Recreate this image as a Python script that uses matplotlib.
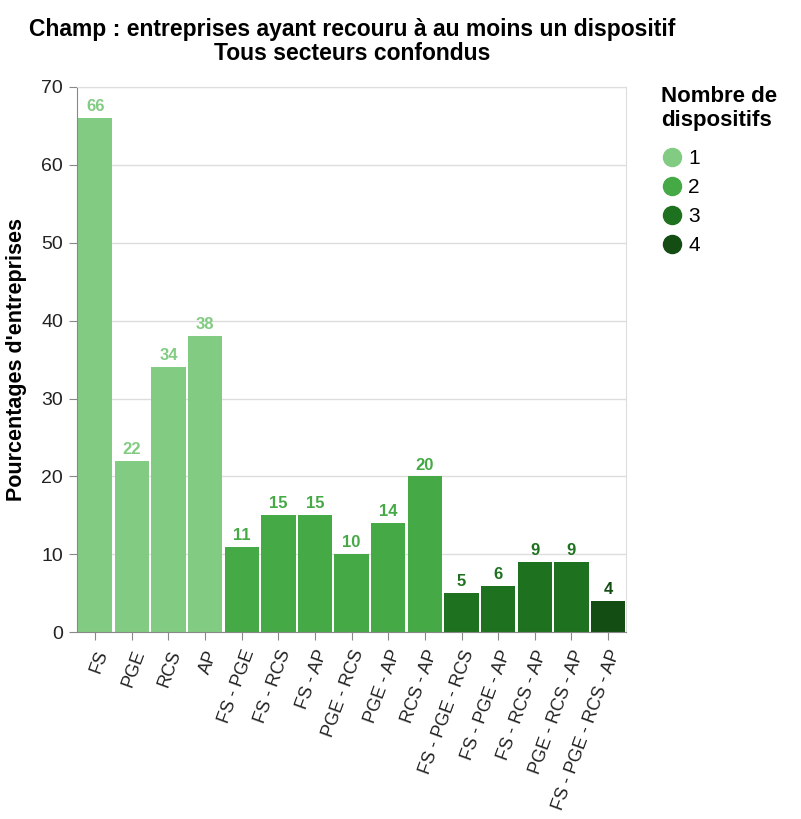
import matplotlib
matplotlib.use("Agg")
import matplotlib.pyplot as plt
from matplotlib.lines import Line2D

# data
categories = ["FS", "PGE", "RCS", "AP",
              "FS - PGE", "FS - RCS", "FS - AP", "PGE - RCS", "PGE - AP", "RCS - AP",
              "FS - PGE - RCS", "FS - PGE - AP", "FS - RCS - AP", "PGE - RCS - AP",
              "FS - PGE - RCS - AP"]
values = [66, 22, 34, 38, 11, 15, 15, 10, 14, 20, 5, 6, 9, 9, 4]
n_dispositifs = [1, 1, 1, 1, 2, 2, 2, 2, 2, 2, 3, 3, 3, 3, 4]
legend_levels = [1, 2, 3, 4]
palette = {1: "#82cb82", 2: "#45a945", 3: "#1e711e", 4: "#134d13"}

fig = plt.figure(figsize=(8.01, 8.19), dpi=100)
ax = fig.add_axes([0.096, 0.228, 0.686, 0.666])

x = range(len(categories))
cols = [palette[k] for k in n_dispositifs]
ax.bar(x, values, width=0.94, color=cols, zorder=2)
for i, v in enumerate(values):
    ax.text(i, v + 0.5, str(v), ha="center", va="bottom", fontsize=12,
            fontweight="bold", color=cols[i], family="Liberation Sans")

ax.set_xlim(-0.5, len(categories) - 0.5)
ax.set_ylim(0, 70)
ax.set_yticks(range(0, 71, 10))
ax.yaxis.grid(True, color="#dddddd", lw=1, zorder=0)
ax.set_xticks(list(x))
ax.set_xticklabels(categories, rotation=70, ha="right", rotation_mode="anchor",
                   fontsize=13, family="Liberation Sans")
for lab in ax.get_yticklabels():
    lab.set_fontsize(14)
    lab.set_family("Liberation Sans")
ax.tick_params(axis="both", colors="#888888", labelcolor="#222222", length=6)
ax.tick_params(axis="x", pad=5)
ax.tick_params(axis="y", pad=4)
for s in ["top", "right"]:
    ax.spines[s].set_color("#dddddd")
for s in ["left", "bottom"]:
    ax.spines[s].set_color("#888888")
ax.set_ylabel("Pourcentages d'entreprises", fontsize=15.5, fontweight="bold",
              family="Liberation Sans", labelpad=10)

fig.text(0.44, 0.978, "Champ : entreprises ayant recouru à au moins un dispositif\nTous secteurs confondus",
         ha="center", va="top", fontsize=16.5, fontweight="bold",
         family="Liberation Sans", linespacing=1.05)

handles = [Line2D([], [], marker="o", ls="", ms=13, color=palette[k]) for k in legend_levels]
leg = fig.legend(handles, [str(k) for k in legend_levels], title="Nombre de\ndispositifs",
                 loc="upper left", bbox_to_anchor=(0.815, 0.905), frameon=False,
                 prop={"size": 15, "family": "Liberation Sans"}, handletextpad=0.3,
                 labelspacing=0.48, handlelength=1.0, borderaxespad=0)
leg.get_title().set_fontweight("bold")
leg.get_title().set_fontsize(16)
leg.get_title().set_family("Liberation Sans")
leg._legend_box.align = "left"
leg._legend_box.sep = 13

fig.savefig("out.png", dpi=100)
